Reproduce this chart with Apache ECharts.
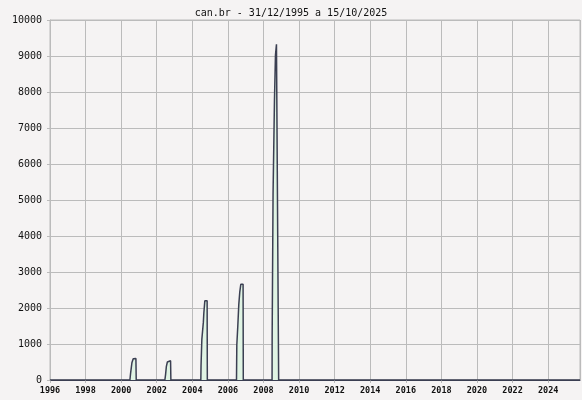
<!DOCTYPE html>
<html>
<head>
<meta charset="utf-8">
<script src="https://cdn.jsdelivr.net/npm/echarts@6/dist/echarts.min.js"></script>
<style>html,body{margin:0;padding:0;background:#f5f3f3;}#c{width:582px;height:400px;}</style>
</head>
<body>
<div id="c"></div>
<script>
var title = 'can.br - 31/12/1995 a 15/10/2025';
// decimal years
var years = [1995.997,
  2000.492, 2000.531, 2000.604, 2000.677, 2000.716, 2000.829, 2000.846,
  2002.457, 2002.496, 2002.541, 2002.597, 2002.641, 2002.777, 2002.794,
  2004.478, 2004.489, 2004.535, 2004.619, 2004.647, 2004.703, 2004.832, 2004.843,
  2006.483, 2006.500, 2006.556, 2006.612, 2006.668, 2006.724, 2006.853, 2006.865,
  2008.482, 2008.487, 2008.538, 2008.617, 2008.673, 2008.729, 2008.841, 2008.852,
  2009.167, 2009.195, 2009.229,
  2025.79];
var domains = [0,
  0, 190, 480, 590, 600, 600, 0,
  0, 150, 380, 500, 536, 536, 0,
  0, 390, 1130, 1600, 1860, 2200, 2200, 0,
  0, 970, 1500, 2100, 2450, 2658, 2658, 0,
  0, 1250, 5185, 7780, 9028, 9325, 9325, 0,
  0, 40, 0,
  0];
var yTicks = [0,1000,2000,3000,4000,5000,6000,7000,8000,9000,10000];
var xTickLabels = ['1996','1998','2000','2002','2004','2006','2008','2010','2012','2014','2016','2018','2020','2022','2024'];

var data = years.map(function(y,i){return [y, domains[i]];});
var chart = echarts.init(document.getElementById('c'), null, {renderer:'canvas'});
chart.setOption({
  backgroundColor: '#f5f3f3',
  animation: false,
  title: {
    text: title, left: 'center', top: 3,
    textStyle: {fontFamily: 'DejaVu Sans Mono', fontSize: 10, fontWeight: 'normal', color: '#111'}
  },
  grid: {left: 50, right: 2, top: 20, bottom: 20, show: true, borderColor: '#bbbbbb', borderWidth: 1},
  xAxis: {
    type: 'value', min: 1996, max: 2025.79, interval: 2,
    axisLine: {show: true, lineStyle: {color: '#3b3f52', width: 1}},
    axisTick: {show: true, length: 3, lineStyle: {color: '#bbbbbb'}},
    splitLine: {show: true, lineStyle: {color: '#bbbbbb', width: 1}},
    axisLabel: {
      showMaxLabel: false, margin: 6,
      fontFamily: 'DejaVu Sans Mono', fontSize: 8.5, fontWeight: 'bold', color: '#111',
      formatter: function(v){ var s = String(Math.round(v)); return xTickLabels.indexOf(s) >= 0 && Math.abs(v-Math.round(v))<1e-6 ? s : ''; }
    }
  },
  yAxis: {
    type: 'value', min: 0, max: 10000, interval: 1000,
    axisLine: {show: true, lineStyle: {color: '#bbbbbb'}},
    axisTick: {show: true, length: 3, lineStyle: {color: '#bbbbbb'}},
    splitLine: {show: true, lineStyle: {color: '#bbbbbb', width: 1}},
    axisLabel: {
      margin: 8, fontFamily: 'DejaVu Sans Mono', fontSize: 10, color: '#111',
      formatter: function(v){ return yTicks.indexOf(v) >= 0 ? String(v) : ''; }
    }
  },
  series: [{
    type: 'line', data: data, showSymbol: false, symbol: 'none',
    lineStyle: {color: '#3b3f52', width: 1.5},
    areaStyle: {color: '#e0f4e4', opacity: 1},
    z: 3
  }]
});
</script>
</body>
</html>
